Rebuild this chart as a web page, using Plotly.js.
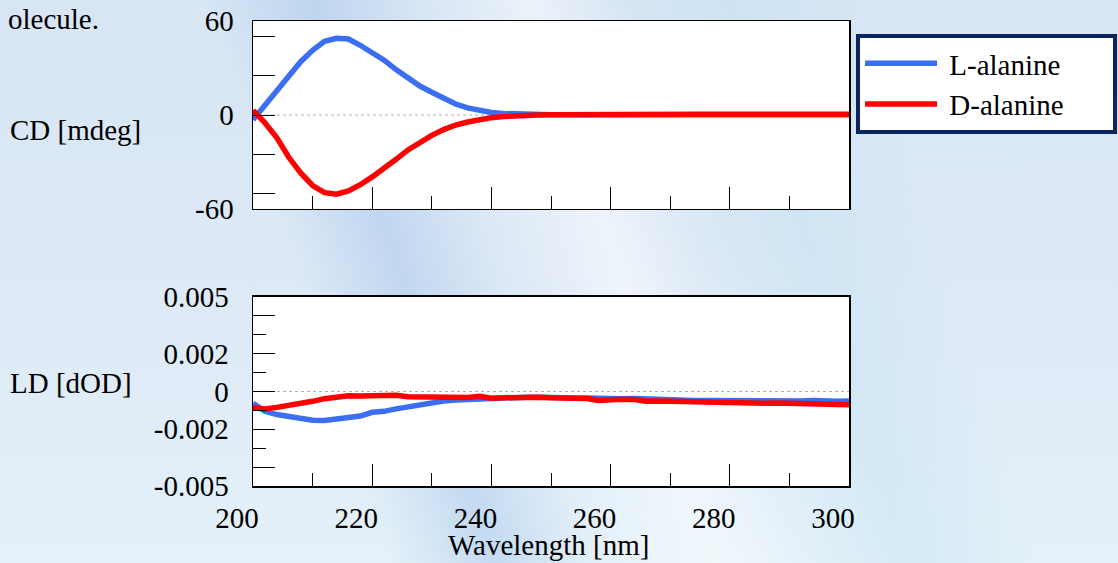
<!DOCTYPE html>
<html>
<head>
<meta charset="utf-8">
<script src="https://cdn.plot.ly/plotly-3.0.1.min.js"></script>
<style>
  html, body { margin:0; padding:0; width:1118px; height:563px; overflow:hidden; }
  body {
    background:
      linear-gradient(72deg,
        rgba(255,255,255,0) 0%, rgba(255,255,255,0) 30%,
        rgba(170,200,235,0.55) 38%, rgba(255,255,255,0) 46%,
        rgba(255,255,255,0.5) 55%, rgba(255,255,255,0) 62%,
        rgba(190,225,240,0.4) 70%, rgba(255,255,255,0) 80%),
      linear-gradient(180deg, #d7e5f4 0%, #dde9f6 50%, #e4f1f9 100%);
  }
  #chart { width:1118px; height:563px; }
</style>
</head>
<body>
<div id="chart"></div>
<script>
// Wavelength grid (nm)
const wavelength = [200,202,204,206,208,210,212,214,216,218,220,222,224,226,228,230,232,234,236,238,240,242,244,246,248,250,252,254,256,258,260,262,264,266,268,270,272,274,276,278,280,282,284,286,288,290,292,294,296,298,300];

// CD [mdeg]
const cdL = [-3,6.5,15,25,34,41.3,47,49,48.5,44.5,40,35,29,23.5,18.5,14.5,10.5,7,4.5,2.8,1.6,1,0.6,0.3,0.2,0.1,0.1,0.2,0.1,0.1,0.2,0.1,0.1,0.2,0.1,0.2,0.1,0.2,0.2,0.1,0.2,0.2,0.1,0.2,0.2,0.2,0.1,0.2,0.2,0.2,0.2];
const cdD = [3,-5,-14.5,-27,-37,-45,-49.6,-50.5,-48.5,-44.5,-39.5,-34.3,-28.3,-22.3,-17.5,-13,-9.3,-6.4,-4.5,-2.8,-1.7,-1,-0.5,-0.2,0,0.1,0.2,0.2,0.3,0.3,0.2,0.3,0.3,0.3,0.4,0.3,0.3,0.4,0.4,0.3,0.4,0.4,0.4,0.4,0.5,0.4,0.4,0.5,0.4,0.5,0.5];

// LD [dOD]
const ldL = [-0.00062,-0.00105,-0.00122,-0.00132,-0.00142,-0.00152,-0.00154,-0.00148,-0.00136,-0.00130,-0.00110,-0.00105,-0.00092,-0.00080,-0.00070,-0.00058,-0.00050,-0.00045,-0.00042,-0.00038,-0.00035,-0.00033,-0.00032,-0.00030,-0.00031,-0.00030,-0.00036,-0.00035,-0.00035,-0.00038,-0.00036,-0.00038,-0.00037,-0.00040,-0.00042,-0.00044,-0.00046,-0.00048,-0.00047,-0.00048,-0.00047,-0.00046,-0.00045,-0.00050,-0.00052,-0.00054,-0.00050,-0.00048,-0.00052,-0.00052,-0.00050];
const ldD = [-0.00086,-0.00092,-0.00084,-0.00075,-0.00062,-0.00052,-0.00038,-0.00028,-0.00022,-0.00024,-0.00023,-0.00022,-0.00020,-0.00028,-0.00030,-0.00031,-0.00033,-0.00036,-0.00032,-0.00025,-0.00036,-0.00033,-0.00031,-0.00033,-0.00030,-0.00033,-0.00036,-0.00038,-0.00037,-0.00048,-0.00042,-0.00041,-0.00043,-0.00052,-0.00050,-0.00052,-0.00053,-0.00055,-0.00058,-0.00056,-0.00057,-0.00060,-0.00062,-0.00062,-0.00061,-0.00063,-0.00068,-0.00064,-0.00066,-0.00068,-0.00070];

// Tick labels
const xTickVals = [200,220,240,260,280,300];
const cdTickVals = [-60,-50,-25,0,25,50,60];
const cdTickText = ['-60','','','0','','','60'];
const ldTickVals = [-0.005,-0.004,-0.002,0,0.002,0.004,0.005];
const ldTickText = ['-0.005','','-0.002','0','0.002','','0.005'];
const ldMinorVals = [-0.003,-0.001,0.001,0.003];
const seriesNames = ['L-alanine','D-alanine'];

const FONT = '"Liberation Serif", "Times New Roman", serif';
const FS = 29;
const BLUE = '#3b6ef2';
const RED = '#ff0000';
const PAD = '\u00a0';

const traces = [
  {x: wavelength, y: cdL, xaxis:'x', yaxis:'y', type:'scatter', mode:'lines', name: PAD + seriesNames[0] + PAD.repeat(6), line:{color:BLUE, width:5.5}},
  {x: wavelength, y: cdD, xaxis:'x', yaxis:'y', type:'scatter', mode:'lines', name: PAD + seriesNames[1] + PAD.repeat(6), line:{color:RED, width:5.5}},
  {x: wavelength, y: ldL, xaxis:'x2', yaxis:'y2', type:'scatter', mode:'lines', showlegend:false, line:{color:BLUE, width:5.5}},
  {x: wavelength, y: ldD, xaxis:'x2', yaxis:'y2', type:'scatter', mode:'lines', showlegend:false, line:{color:RED, width:5.5}}
];

const xBase = {
  range:[200,300], showline:true, mirror:true, linecolor:'black', linewidth:1.5,
  showgrid:false, zeroline:false, ticks:'inside', tickmode:'array', tickvals:xTickVals,
  ticklen:22, tickcolor:'black', tickwidth:1,
  minor:{tickmode:'linear', tick0:200, dtick:10, ticks:'inside', ticklen:13, tickcolor:'black', tickwidth:1, showgrid:false},
  tickfont:{family:FONT, size:FS, color:'black'}
};

const layout = {
  width:1118, height:563,
  margin:{l:253, r:269, t:21, b:77, pad:0},
  paper_bgcolor:'rgba(0,0,0,0)', plot_bgcolor:'white',
  font:{family:FONT, size:FS, color:'black'},
  showlegend:true,
  legend:{xref:'container', yref:'container', x:0.7657, y:0.9396, xanchor:'left', yanchor:'top',
          bgcolor:'white', bordercolor:'#0b2462', borderwidth:4,
          font:{family:FONT, size:FS, color:'black'}, itemwidth:72},
  xaxis: Object.assign({}, xBase, {anchor:'y', domain:[0,1], showticklabels:false}),
  xaxis2: Object.assign({}, xBase, {anchor:'y2', domain:[0,1], showticklabels:true, ticklabelshift:-16, ticklabelstandoff:6}),
  yaxis: {anchor:'x', domain:[0.5957,1], range:[-60,60], showline:true, mirror:true, linecolor:'black', linewidth:1.5,
          showgrid:false, zeroline:false, ticks:'inside', tickmode:'array', tickvals:cdTickVals, ticktext:cdTickText,
          ticklen:22, tickcolor:'black', tickwidth:1, ticklabelstandoff:12, tickfont:{family:FONT, size:FS, color:'black'}},
  yaxis2: {anchor:'x2', domain:[0,0.4065], range:[-0.005,0.005], showline:true, mirror:true, linecolor:'black', linewidth:1.5,
          showgrid:false, zeroline:false, ticks:'inside', tickmode:'array', tickvals:ldTickVals, ticktext:ldTickText,
          ticklen:22, tickcolor:'black', tickwidth:1, ticklabelstandoff:17, tickfont:{family:FONT, size:FS, color:'black'},
          minor:{tickmode:'array', tickvals:ldMinorVals, ticks:'inside', ticklen:13, tickcolor:'black', tickwidth:1, showgrid:false}},
  shapes:[
    {type:'line', xref:'x domain', x0:0, x1:1, yref:'y', y0:0, y1:0, layer:'below', line:{color:'#b0b0b0', width:1, dash:'dot'}},
    {type:'line', xref:'x2 domain', x0:0, x1:1, yref:'y2', y0:0, y1:0, layer:'below', line:{color:'#b0b0b0', width:1, dash:'dot'}}
  ],
  annotations:[
    {text:'CD [mdeg]', xref:'paper', yref:'paper', x:-0.297, y:0.7656, xanchor:'center', yanchor:'middle', showarrow:false, font:{family:FONT, size:FS, color:'black'}},
    {text:'LD [dOD]', xref:'paper', yref:'paper', x:-0.3054, y:0.2215, xanchor:'center', yanchor:'middle', showarrow:false, font:{family:FONT, size:FS, color:'black'}},
    {text:'Wavelength [nm]', xref:'paper', yref:'paper', x:0.4966, y:-0.126, xanchor:'center', yanchor:'middle', showarrow:false, font:{family:FONT, size:FS, color:'black'}},
    {text:'olecule.', xref:'paper', yref:'paper', x:-0.4144, y:1.0045, xanchor:'left', yanchor:'middle', showarrow:false, font:{family:FONT, size:FS, color:'black'}}
  ]
};

Plotly.newPlot('chart', traces, layout, {displayModeBar:false, staticPlot:true});
</script>
</body>
</html>
